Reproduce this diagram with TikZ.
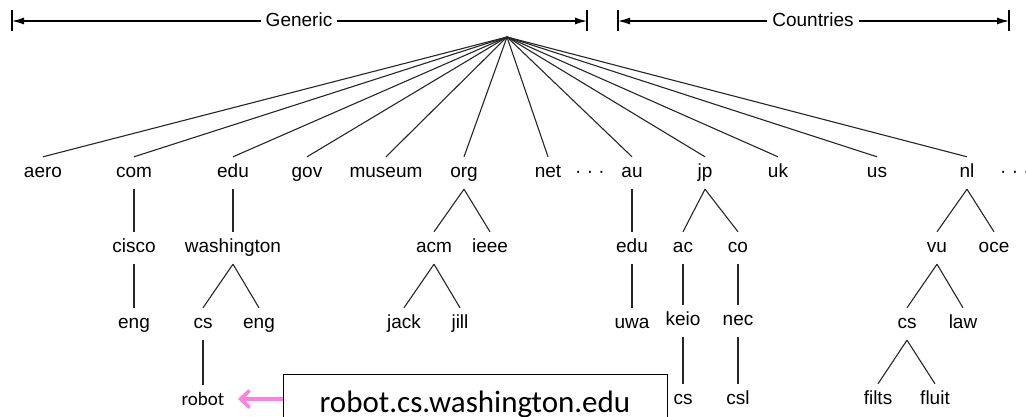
\documentclass[tikz,border=0pt]{standalone}
\usepackage{fontspec}
\setmainfont{Liberation Sans}
\newfontfamily\carlito{Carlito}
\usetikzlibrary{arrows.meta}
\definecolor{pinkarr}{RGB}{255,128,224}
\begin{document}
\begin{tikzpicture}[x=1pt,y=-1pt,
  lbl/.style={font=\fontsize{19}{22}\selectfont, inner sep=0pt, text height=13pt, text depth=4pt, minimum height=32pt},
  edge/.style={line width=1.1pt, black!85},
  brk/.style={line width=1.2pt, -{Latex[length=12pt,width=7pt]}},
  bar/.style={line width=1.3pt},
  hdr/.style={font=\fontsize{19}{22}\selectfont, anchor=base, inner xsep=5pt, inner ysep=0pt},
  pinkarrow/.style={draw=pinkarr, line width=3.5pt, -{Straight Barb[length=9pt,width=17pt]}}]
\useasboundingbox (0,0) rectangle (1026,417);
\clip (0,0) rectangle (1026,417);

% header brackets
\coordinate (gL) at (12,21);
\coordinate (gR) at (587,21);
\coordinate (cL) at (618,21);
\coordinate (cR) at (1009,21);
\node[hdr] (gen) at (299,27) {Generic};
\node[hdr] (cty) at (813,27) {Countries};
\draw[brk] (gen.west |- gL) -- (gL);
\draw[brk] (gen.east |- gR) -- (gR);
\draw[brk] (cty.west |- cL) -- (cL);
\draw[brk] (cty.east |- cR) -- (cR);
\foreach \c in {gL,gR,cL,cR}
  \draw[bar] ([yshift=11pt]\c) -- ([yshift=-10pt]\c);

% root
\coordinate (root) at (507,37);

% level 1
\node[lbl] (aero) at (43,173) {aero};
\node[lbl] (com) at (134,173) {com};
\node[lbl] (edu) at (233,173) {edu};
\node[lbl] (gov) at (307,173) {gov};
\node[lbl] (museum) at (386,173) {museum};
\node[lbl] (org) at (464,173) {org};
\node[lbl] (net) at (548,173) {net};
\node[lbl] (dotsA) at (590,173) {· · ·};
\node[lbl] (au) at (632,173) {au};
\node[lbl] (jp) at (705,173) {jp};
\node[lbl] (uk) at (778,173) {uk};
\node[lbl] (us) at (877,173) {us};
\node[lbl] (nl) at (967,173) {nl};
\node[lbl] (dotsB) at (1015,173) {· · ·};

\foreach \n in {aero,com,edu,gov,museum,org,net,au,jp,uk,us,nl}
  \draw[edge] (root) -- (\n.north);

% level 2
\node[lbl] (cisco) at (134,248) {cisco};
\node[lbl] (washington) at (233,248) {washington};
\node[lbl] (acm) at (434,248) {acm};
\node[lbl] (ieee) at (490,248) {ieee};
\node[lbl] (auedu) at (632,248) {edu};
\node[lbl] (ac) at (683,248) {ac};
\node[lbl] (co) at (738,248) {co};
\node[lbl] (vu) at (937,248) {vu};
\node[lbl] (oce) at (994,248) {oce};

% level 3
\node[lbl] (comeng) at (134,324) {eng};
\node[lbl] (cs) at (203,324) {cs};
\node[lbl] (waeng) at (259,324) {eng};
\node[lbl] (jack) at (404,324) {jack};
\node[lbl] (jill) at (460,324) {jill};
\node[lbl] (uwa) at (632,324) {uwa};
\node[lbl] (keio) at (683,321) {keio};
\node[lbl] (nec) at (738,321) {nec};
\node[lbl] (nlcs) at (907,324) {cs};
\node[lbl] (law) at (963,324) {law};

% level 4
\node[lbl, font=\carlito\fontsize{19}{22}\selectfont] (robot) at (203,401) {robot};
\node[lbl] (jpcs) at (683,400) {cs};
\node[lbl] (csl) at (738,400) {csl};
\node[lbl] (filts) at (878,400) {filts};
\node[lbl] (fluit) at (935,400) {fluit};

% subtree edges
\draw[edge] (com.south) -- (cisco.north);
\draw[edge] (cisco.south) -- (comeng.north);
\draw[edge] (edu.south) -- (washington.north);
\draw[edge] (washington.south) -- (cs.north);
\draw[edge] (washington.south) -- (waeng.north);
\draw[edge] (cs.south) -- (robot.north);
\draw[edge] (org.south) -- (acm.north);
\draw[edge] (org.south) -- (ieee.north);
\draw[edge] (acm.south) -- (jack.north);
\draw[edge] (acm.south) -- (jill.north);
\draw[edge] (au.south) -- (auedu.north);
\draw[edge] (auedu.south) -- (uwa.north);
\draw[edge] (jp.south) -- (ac.north);
\draw[edge] (jp.south) -- (co.north);
\draw[edge] (ac.south) -- (keio.north);
\draw[edge] (co.south) -- (nec.north);
\draw[edge] (keio.south) -- (jpcs.north);
\draw[edge] (nec.south) -- (csl.north);
\draw[edge] (nl.south) -- (vu.north);
\draw[edge] (nl.south) -- (oce.north);
\draw[edge] (vu.south) -- (nlcs.north);
\draw[edge] (vu.south) -- (law.north);
\draw[edge] (nlcs.south) -- (filts.north);
\draw[edge] (nlcs.south) -- (fluit.north);

% URL box and arrow
\node[draw, line width=1pt, minimum width=384pt, minimum height=80pt, anchor=north west, inner sep=0pt] (box) at (283,374) {};
\node[font=\carlito\fontsize{31}{36}\selectfont, anchor=base, inner sep=0pt] (url) at (475,412) {robot.cs.washington.edu};
\coordinate (tip) at (238,399);
\draw[pinkarrow] (box.west |- tip) -- (tip);
\end{tikzpicture}
\end{document}
